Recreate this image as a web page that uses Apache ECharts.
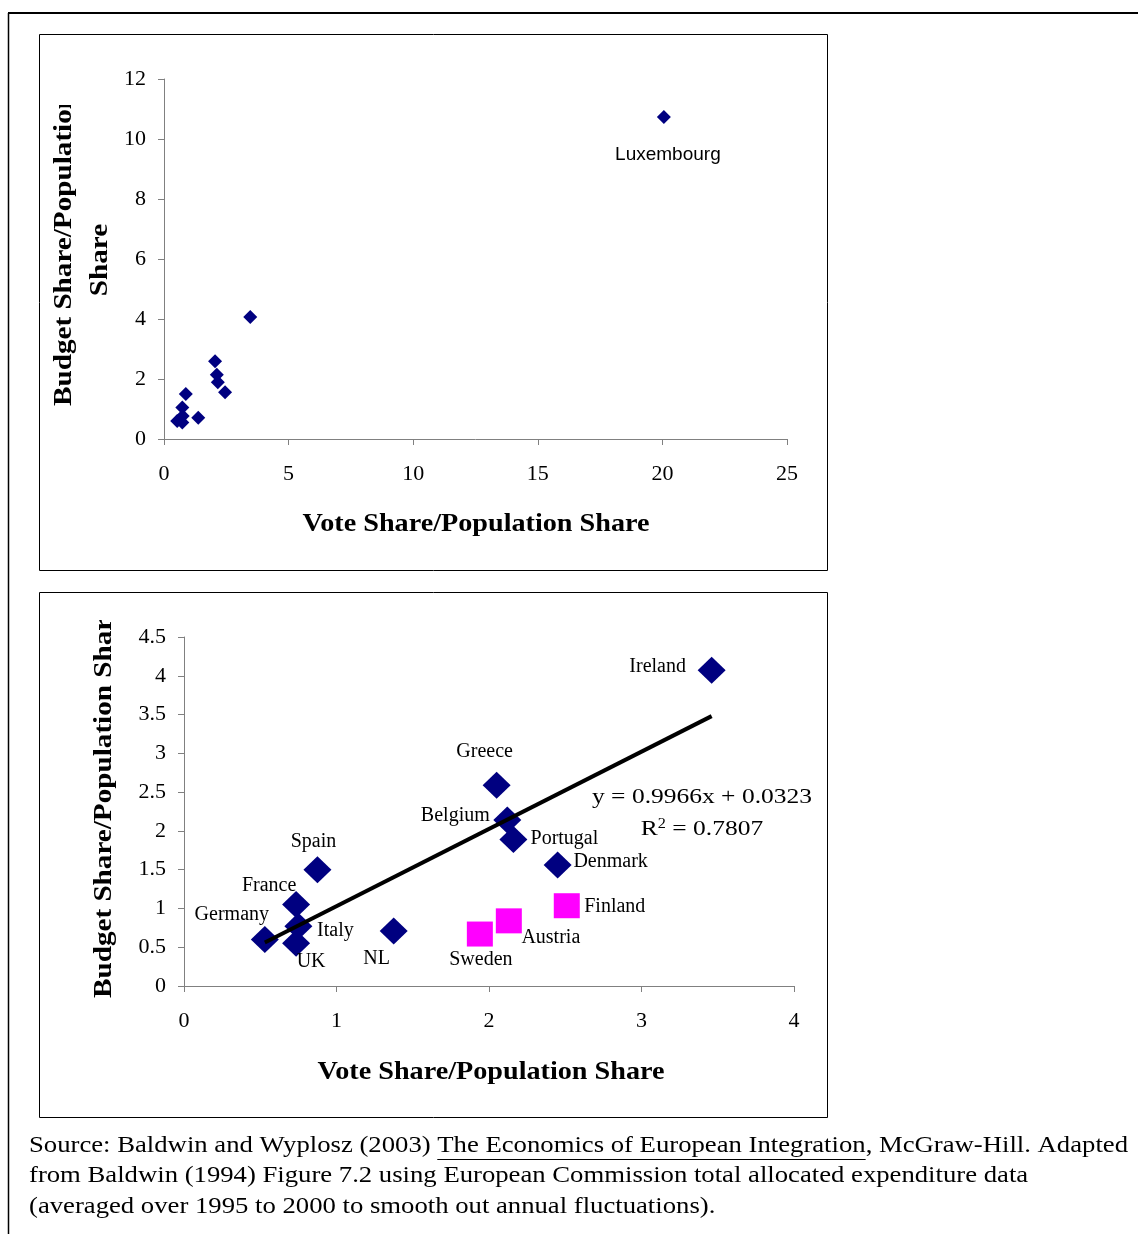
<!DOCTYPE html>
<html><head><meta charset="utf-8">
<script src="https://cdn.jsdelivr.net/npm/echarts@6/dist/echarts.min.js"></script>
<style>html,body{margin:0;padding:0;background:#fff}#c{width:1138px;height:1234px}</style>
</head><body><div id="c"></div>
<script>
// ---- data ----
const countries = ['Ireland','Greece','Belgium','Portugal','Denmark','Spain','France','Germany','Italy','UK','NL'];
const voteShare = [3.46, 2.05, 2.12, 2.16, 2.45, 0.875, 0.735, 0.53, 0.75, 0.735, 1.375];
const budgetShare = [4.07, 2.59, 2.14, 1.89, 1.56, 1.50, 1.05, 0.60, 0.77, 0.55, 0.71];
const newMembers = ['Finland','Austria','Sweden'];
const newVote = [2.51, 2.13, 1.94];
const newBudget = [1.035, 0.84, 0.67];
const luxName = 'Luxembourg';
const luxVote = [20.06];
const luxBudget = [10.73];
const trendX = [0.53, 3.46];
const trendY = [0.56, 3.48];
const equationText = 'y = 0.9966x + 0.0323';
const r2Value = '0.7807';
const topXTicks = [0, 25, 5];
const topYTicks = [0, 12, 2];
const botXTicks = [0, 4, 1];
const botYTicks = [0, 4.5, 0.5];
const xTitle = 'Vote Share/Population Share';
const yTitle1 = 'Budget Share/Population';
const yTitle2 = 'Share';
const yTitleFull = 'Budget Share/Population Share';
const sourceParts = ['Source: Baldwin and Wyplosz (2003) ', 'The Economics of European Integration', ', McGraw-Hill. Adapted'];
const sourceLines = ['from Baldwin (1994) Figure 7.2 using European Commission total allocated expenditure data', '(averaged over 1995 to 2000 to smooth out annual fluctuations).'];

// ---- layout (label offsets relative to point centre) ----
const labelOffsets = {
  Ireland:[-54,-4], Greece:[-12,-33], Belgium:[-52,-4], Portugal:[51,-1], Denmark:[53,-3],
  Spain:[-4,-28], France:[-27,-19], Germany:[-33,-25], Italy:[37,4], UK:[15,18], NL:[-17,28],
  Finland:[48,1], Austria:[42,17], Sweden:[1,26]
};
const SERIF = '"Liberation Serif", "Times New Roman", serif';
const SANS = '"Liberation Sans", Arial, sans-serif';
const NAVY = '#000080', PINK = '#FF00FF';

const mc = document.createElement('canvas').getContext('2d');
function measure(text, font) { mc.font = font; return mc.measureText(text).width; }

const titleFont = 'bold 26px ' + SERIF;
const titleScale = 347 / measure(xTitle, titleFont);
const yTitleScale = titleScale * 1.035;
const eqFont = '22px ' + SERIF;
const eqScale = 220 / measure(equationText, eqFont);
const srcFont = '24px ' + SERIF;
const srcScale = 1099 / measure(sourceParts.join(''), srcFont);
const w1 = measure(sourceParts[0], srcFont) * srcScale;
const w2 = measure(sourceParts[1], srcFont) * srcScale;
const srcX = 29;

const chart = echarts.init(document.getElementById('c'), null, {renderer:'canvas'});

function axisCommon(min, max, interval, gridIndex, margin) {
  return {
    gridIndex, min, max, interval,
    axisLine:{show:true, onZero:false, lineStyle:{color:'#808080', width:1}},
    axisTick:{show:true, inside:false, length:6, lineStyle:{color:'#808080'}},
    splitLine:{show:false},
    axisLabel:{fontFamily:SERIF, fontSize:22, color:'#000', margin}
  };
}
function lbl(name) {
  const o = labelOffsets[name] || [0,0];
  return {show:true, position:'inside', offset:o, formatter:name, fontFamily:SERIF, fontSize:20, color:'#000', align:'center', verticalAlign:'middle'};
}

const topData = countries.map((n,i)=>({name:n, value:[voteShare[i], budgetShare[i]]}));
const luxData = luxVote.map((v,i)=>({name:luxName, value:[v, luxBudget[i]],
  label:{show:true, position:'inside', offset:[4,38], formatter:luxName, fontFamily:SANS, fontSize:19, color:'#000'}}));
const botData = countries.map((n,i)=>({name:n, value:[voteShare[i], budgetShare[i]], label:lbl(n)}));
const newData = newMembers.map((n,i)=>({name:n, value:[newVote[i], newBudget[i]], label:lbl(n)}));
const trendData = trendX.map((x,i)=>[x, trendY[i]]);

function txt(x, y, text, font, opts) {
  return Object.assign({type:'text', x, y, style:{text, font, fill:'#000', align:'center', verticalAlign:'middle'}}, opts||{});
}

const option = {
  animation:false,
  backgroundColor:'#fff',
  grid:[
    {left:164, top:79, width:623, height:360},
    {left:184, top:637, width:610, height:349}
  ],
  xAxis:[
    axisCommon(topXTicks[0], topXTicks[1], topXTicks[2], 0, 24),
    axisCommon(botXTicks[0], botXTicks[1], botXTicks[2], 1, 24)
  ],
  yAxis:[
    axisCommon(topYTicks[0], topYTicks[1], topYTicks[2], 0, 18),
    axisCommon(botYTicks[0], botYTicks[1], botYTicks[2], 1, 18)
  ],
  series:[
    {type:'scatter', xAxisIndex:0, yAxisIndex:0, symbol:'diamond', symbolSize:[14,14], itemStyle:{color:NAVY, opacity:1}, data:topData},
    {type:'scatter', xAxisIndex:0, yAxisIndex:0, symbol:'diamond', symbolSize:[14,14], itemStyle:{color:NAVY, opacity:1}, data:luxData},
    {type:'line', xAxisIndex:1, yAxisIndex:1, data:trendData, symbol:'none', lineStyle:{color:'#000', width:4}, z:3},
    {type:'scatter', xAxisIndex:1, yAxisIndex:1, symbol:'diamond', symbolSize:[28,27], itemStyle:{color:NAVY, opacity:1}, data:botData, z:2},
    {type:'scatter', xAxisIndex:1, yAxisIndex:1, symbol:'rect', symbolSize:[26,25], itemStyle:{color:PINK, opacity:1}, data:newData, z:2}
  ],
  graphic:[
    {type:'line', shape:{x1:8, y1:13, x2:1138, y2:13}, style:{stroke:'#000', lineWidth:2}},
    {type:'line', shape:{x1:8.5, y1:13, x2:8.5, y2:1234}, style:{stroke:'#000', lineWidth:1.5}},
    {type:'rect', shape:{x:39.5, y:34.5, width:788, height:536}, style:{fill:null, stroke:'#000', lineWidth:1}},
    {type:'rect', shape:{x:39.5, y:592.5, width:788, height:525}, style:{fill:null, stroke:'#000', lineWidth:1}},
    txt(476, 524, xTitle, titleFont, {scaleX:titleScale}),
    txt(491, 1072, xTitle, titleFont, {scaleX:titleScale}),
    {type:'text', x:64, y:406, rotation:Math.PI/2, scaleX:yTitleScale, style:{text:yTitle1, font:titleFont, fill:'#000', align:'left', verticalAlign:'middle'}, z:10},
    {type:'text', x:100, y:260, rotation:Math.PI/2, scaleX:yTitleScale, style:{text:yTitle2, font:titleFont, fill:'#000', align:'center', verticalAlign:'middle'}, z:10},
    {type:'rect', shape:{x:44, y:36, width:40, height:69}, style:{fill:'#fff'}, z:20},
    {type:'text', x:104, y:998, rotation:Math.PI/2, scaleX:yTitleScale, style:{text:yTitleFull, font:titleFont, fill:'#000', align:'left', verticalAlign:'middle'}, z:10},
    {type:'rect', shape:{x:86, y:594, width:36, height:26}, style:{fill:'#fff'}, z:20},
    txt(702, 797, equationText, eqFont, {scaleX:eqScale, z:30}),
    {type:'text', x:702, y:829, scaleX:eqScale, z:30, style:{text:'R{sup|2} = '+r2Value, font:eqFont, fill:'#000', align:'center', verticalAlign:'middle',
      rich:{sup:{fontFamily:SERIF, fontSize:14, verticalAlign:'top', padding:[0,0,9,0]}}}},
    {type:'text', x:srcX, y:1146, scaleX:srcScale, style:{text:sourceParts[0], font:srcFont, fill:'#000', align:'left', verticalAlign:'middle'}},
    {type:'text', x:srcX+w1, y:1146, scaleX:srcScale, style:{text:sourceParts[1], font:srcFont, fill:'#000', align:'left', verticalAlign:'middle'}},
    {type:'line', shape:{x1:srcX+w1, y1:1159.5, x2:srcX+w1+w2, y2:1159.5}, style:{stroke:'#000', lineWidth:1}},
    {type:'text', x:srcX+w1+w2, y:1146, scaleX:srcScale, style:{text:sourceParts[2], font:srcFont, fill:'#000', align:'left', verticalAlign:'middle'}},
    {type:'text', x:srcX, y:1176, scaleX:srcScale, style:{text:sourceLines[0], font:srcFont, fill:'#000', align:'left', verticalAlign:'middle'}},
    {type:'text', x:srcX, y:1207, scaleX:srcScale, style:{text:sourceLines[1], font:srcFont, fill:'#000', align:'left', verticalAlign:'middle'}}
  ]
};
chart.setOption(option);
</script></body></html>
